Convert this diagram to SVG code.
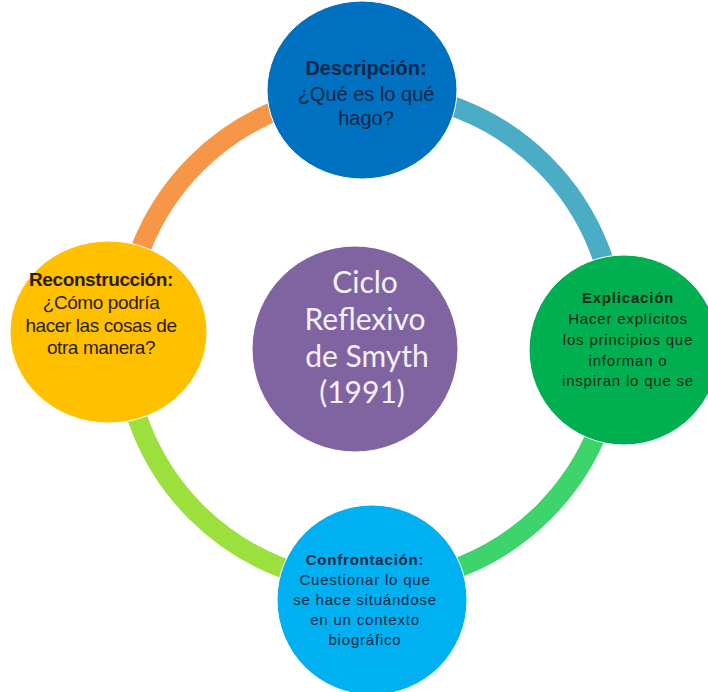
<svg xmlns="http://www.w3.org/2000/svg" width="708" height="692" viewBox="0 0 708 692">
<style>
.ring{fill:none;stroke-width:20;stroke-linecap:butt}
.node{stroke:#ffffff;stroke-width:1}
.t{font-family:"Liberation Sans",Arial,sans-serif;text-anchor:middle}
.b{font-weight:bold}
.top{font-size:20px;fill:#10284a}
.left{font-size:19px;fill:#2a1e05;letter-spacing:-0.4px}
.right{font-size:15px;fill:#0c2a16;letter-spacing:0.8px}
.bottom{font-size:15px;fill:#0b2a45;letter-spacing:0.8px}
.center{font-family:Lato,"Open Sans",sans-serif;font-size:30px;fill:#f4f0f8;text-anchor:middle}
</style>
<rect width="708" height="692" fill="#ffffff"/>
<g id="connectors">
<path class="ring" stroke="#F79646" d="M124 338 A246 246 0 0 1 370 92"/>
<path class="ring" stroke="#4BACC6" d="M370 92 A246 246 0 0 1 616 338"/>
<path class="ring" stroke="#3DD46B" d="M616 338 A246 246 0 0 1 370 584"/>
<path class="ring" stroke="#9BE03C" d="M370 584 A246 246 0 0 1 124 338"/>
</g>
<g id="node-descripcion">
<ellipse class="node" cx="362" cy="90" rx="95" ry="89" fill="#0070C0"/>
<text class="t top" x="366"><tspan class="b" x="366" y="75">Descripción:</tspan><tspan x="366" y="100.5">¿Qué es lo qué</tspan><tspan x="366" y="125">hago?</tspan></text>
</g>
<g id="node-explicacion">
<circle class="node" cx="624" cy="350" r="95" fill="#00B050"/>
<text class="t right"><tspan class="b" x="628" y="303">Explicación</tspan><tspan x="628" y="324">Hacer explícitos</tspan><tspan x="628" y="345">los principios que</tspan><tspan x="628" y="366">informan o</tspan><tspan x="628" y="386">inspiran lo que se</tspan></text>
</g>
<g id="node-confrontacion">
<circle class="node" cx="372" cy="600" r="95" fill="#00B0F0"/>
<text class="t bottom"><tspan class="b" x="365" y="565">Confrontación:</tspan><tspan x="365" y="585">Cuestionar lo que</tspan><tspan x="365" y="605">se hace situándose</tspan><tspan x="365" y="625">en un contexto</tspan><tspan x="365" y="645">biográfico</tspan></text>
</g>
<g id="node-reconstruccion">
<ellipse class="node" cx="108.5" cy="332" rx="98.5" ry="91" fill="#FFC000"/>
<text class="t left"><tspan class="b" x="101" y="286">Reconstrucción:</tspan><tspan x="101" y="309">¿Cómo podría</tspan><tspan x="101" y="331.5">hacer las cosas de</tspan><tspan x="101" y="354">otra manera?</tspan></text>
</g>
<g id="node-ciclo">
<circle class="node" cx="355" cy="349" r="103" fill="#8064A2"/>
<text class="center"><tspan x="365" y="293">Ciclo</tspan><tspan x="365" y="330">Reflexivo</tspan><tspan x="367" y="367">de Smyth</tspan><tspan x="362" y="403">(1991)</tspan></text>
</g>
</svg>
